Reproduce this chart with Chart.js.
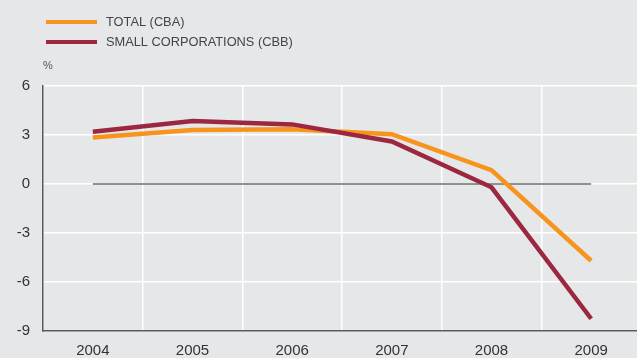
<!DOCTYPE html>
<html>
<head>
<meta charset="utf-8">
<script src="https://cdn.jsdelivr.net/npm/chart.js@4/dist/chart.umd.min.js"></script>
<style>
  html, body { margin: 0; padding: 0; background: #e6e7e8; overflow: hidden; }
  #wrap { position: relative; width: 641px; height: 358px; }
</style>
</head>
<body>
<div id="wrap"><canvas id="chart" width="641" height="358"></canvas></div>
<script>
"use strict";

const years = ['2004', '2005', '2006', '2007', '2008', '2009'];
const total = [2.85, 3.3, 3.35, 3.05, 0.85, -4.7];
const smallCorps = [3.2, 3.85, 3.65, 2.6, -0.2, -8.25];
const zero = [0, 0, 0, 0, 0, 0];
const yTicks = [6, 3, 0, -3, -6, -9];

const FONT = "'Liberation Sans', Arial, sans-serif";

const legendPlugin = {
  id: 'sideLegend',
  afterDraw(chart) {
    const ctx = chart.ctx;
    const items = chart.data.datasets.filter(d => d.inLegend);
    ctx.save();
    items.forEach((d, i) => {
      const y = 22 + i * 20;
      ctx.fillStyle = d.borderColor;
      ctx.fillRect(46, y - 2, 51, 4);
      ctx.fillStyle = '#444';
      ctx.font = '12.8px ' + FONT;
      ctx.textBaseline = 'middle';
      ctx.fillText(d.label, 106, y);
    });
    ctx.fillStyle = '#555';
    ctx.font = '11px ' + FONT;
    ctx.fillText('%', 43, 66);
    ctx.restore();
  }
};

new Chart(document.getElementById('chart'), {
  type: 'line',
  data: {
    labels: years,
    datasets: [
      {
        label: 'TOTAL (CBA)', data: total, inLegend: true,
        borderColor: '#f7941d', borderWidth: 4.5, pointRadius: 0, tension: 0, order: 2
      },
      {
        label: 'SMALL CORPORATIONS (CBB)', data: smallCorps, inLegend: true,
        borderColor: '#9b2740', borderWidth: 4.5, pointRadius: 0, tension: 0, order: 1
      },
      {
        label: 'zero', data: zero, inLegend: false,
        borderColor: '#6d6e70', borderWidth: 1.5, pointRadius: 0, order: 3
      }
    ]
  },
  options: {
    responsive: false,
    animation: false,
    layout: { padding: { top: 86, right: 0, left: 0, bottom: 0 } },
    plugins: { legend: { display: false }, tooltip: { enabled: false } },
    scales: {
      x: {
        offset: true,
        grid: { offset: true, color: '#ffffff', lineWidth: 1.5, drawTicks: false },
        border: { color: '#58595b', width: 1.5 },
        ticks: { color: '#333', font: { family: FONT, size: 15 }, padding: 11, maxRotation: 0 },
        afterFit(scale) { scale.height = 27; }
      },
      y: {
        min: -9, max: 6,
        afterBuildTicks(scale) { scale.ticks = yTicks.map(v => ({ value: v })); },
        grid: { color: '#ffffff', lineWidth: 1.5, drawTicks: false },
        border: { color: '#58595b', width: 1.5 },
        ticks: { color: '#333', font: { family: FONT, size: 15 }, padding: 13 },
        afterFit(scale) { scale.width = 43; }
      }
    }
  },
  plugins: [legendPlugin]
});
</script>
</body>
</html>
